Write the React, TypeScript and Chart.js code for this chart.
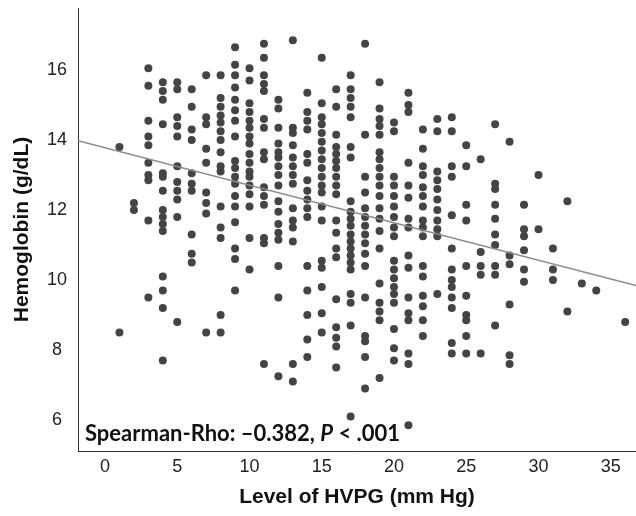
import { useEffect, useRef } from "react";
import { Chart, registerables } from "chart.js";

Chart.register(...registerables);

// HVPG levels (mm Hg) and the hemoglobin values (g/dL) observed at each level
const hvpgLevels = [1, 2, 3, 4, 5, 6, 7, 8, 9, 10, 11, 12, 13, 14, 15, 16, 17, 18, 19, 20, 21, 22, 23, 24, 25, 26, 27, 28, 29, 30, 31, 32, 33, 34, 36];
const hemoglobinAtLevel: number[][] = [
  [13.8, 8.5],
  [12.2, 12.0],
  [16.05, 15.55, 14.55, 14.1, 13.85, 13.35, 13.0, 12.85, 11.7, 9.5],
  [15.65, 15.4, 15.15, 14.45, 13.05, 12.95, 12.55, 12.0, 11.8, 11.6, 11.4, 10.1, 9.7, 9.2, 7.7],
  [15.65, 15.45, 14.65, 14.4, 14.1, 13.25, 12.8, 12.55, 12.3, 11.8, 8.8],
  [15.45, 14.95, 14.3, 14.0, 13.05, 12.75, 12.55, 11.3, 10.75, 10.5],
  [15.85, 14.65, 14.45, 13.75, 13.35, 12.5, 12.2, 11.9, 8.5],
  [15.85, 15.2, 14.95, 14.7, 14.5, 14.25, 14.0, 13.65, 13.25, 13.1, 12.1, 11.5, 11.2, 9.0, 8.5],
  [16.65, 16.15, 15.85, 15.5, 15.15, 14.85, 14.55, 14.1, 13.4, 13.2, 12.95, 12.75, 12.4, 12.1, 11.65, 10.9, 10.6, 9.7],
  [16.05, 15.7, 15.05, 14.8, 14.55, 14.35, 14.1, 13.9, 13.6, 13.35, 13.1, 12.95, 12.7, 12.45, 12.1, 11.2, 10.3],
  [16.75, 16.35, 15.85, 15.6, 15.4, 14.6, 14.35, 13.65, 13.45, 12.65, 12.4, 12.15, 11.2, 11.05, 7.6],
  [15.15, 14.9, 14.35, 13.9, 13.65, 13.5, 13.25, 13.0, 12.7, 12.25, 11.95, 11.6, 11.35, 11.15, 10.4, 9.5, 7.25],
  [16.85, 14.35, 14.2, 13.85, 13.5, 13.25, 13.0, 12.75, 12.05, 11.7, 11.5, 11.1, 7.6, 7.1],
  [15.35, 14.8, 14.55, 14.3, 13.6, 13.35, 12.85, 12.55, 12.3, 12.05, 11.8, 10.4, 9.7, 9.0, 8.3, 7.8],
  [16.35, 15.05, 14.65, 14.45, 14.2, 13.95, 13.7, 13.45, 13.2, 12.95, 12.7, 12.5, 12.1, 11.7, 10.55, 10.35, 9.8, 9.05, 8.5],
  [15.45, 14.95, 14.15, 13.8, 13.6, 13.4, 13.2, 12.95, 12.7, 12.45, 11.7, 11.35, 10.9, 10.65, 9.45, 8.65, 8.35, 8.1, 7.5],
  [15.85, 15.45, 15.2, 14.95, 14.65, 13.8, 13.5, 12.25, 11.95, 11.75, 11.55, 11.3, 11.1, 10.9, 10.7, 10.5, 10.3, 9.6, 9.35, 8.7, 6.1],
  [16.75, 14.15, 12.95, 12.5, 12.05, 11.8, 11.55, 11.3, 11.05, 10.75, 10.4, 9.5, 8.4, 8.25, 7.8, 6.9],
  [15.65, 14.9, 14.6, 14.4, 14.15, 13.65, 13.45, 13.2, 12.95, 12.7, 12.4, 12.05, 11.75, 11.4, 10.9, 9.9, 9.35, 9.1, 8.85, 7.2],
  [14.5, 14.25, 12.95, 12.7, 12.4, 12.1, 11.8, 11.5, 11.25, 10.55, 10.3, 10.05, 9.8, 9.6, 9.35, 8.6, 8.05, 7.7],
  [15.35, 15.0, 14.8, 13.35, 12.7, 12.35, 11.75, 11.5, 10.7, 10.35, 9.5, 9.05, 8.85, 7.9, 7.6, 5.85],
  [14.3, 13.75, 13.25, 13.0, 12.65, 12.4, 12.1, 11.7, 11.5, 11.25, 10.4, 10.1, 9.55, 9.25, 8.85, 8.4],
  [14.6, 14.25, 13.1, 12.85, 12.6, 12.3, 12.0, 11.7, 11.45, 11.25, 9.6],
  [14.65, 14.25, 13.25, 12.95, 11.85, 10.9, 10.3, 10.0, 9.8, 9.5, 9.2, 8.2, 7.9],
  [13.85, 13.25, 12.15, 11.7, 10.4, 9.55, 9.0, 8.85, 8.4, 7.9],
  [13.45, 10.8, 10.4, 10.15, 7.9],
  [14.45, 12.75, 12.6, 12.15, 11.75, 11.3, 11.0, 10.4, 10.15, 8.7],
  [13.95, 10.7, 10.45, 9.3, 7.85, 7.6],
  [12.15, 11.45, 11.25, 10.85, 10.3, 9.95],
  [13.0, 11.45],
  [10.9, 10.3, 10.0],
  [12.25, 9.1],
  [9.9],
  [9.7],
  [8.8],
];

// Regression line end points
const trendX = [-1.87, 36.75];
const trendY = [13.98, 9.84];

const xTickValues = [0, 5, 10, 15, 20, 25, 30, 35];
const yTickValues = [6, 8, 10, 12, 14, 16];

const annotationParts = [
  { text: "Spearman-Rho: \u20130.382, ", italic: false },
  { text: "P", italic: true },
  { text: " < .001", italic: false },
];

const SANS = "'Liberation Sans', Arial, sans-serif";

export default function App() {
  const ref = useRef<HTMLCanvasElement>(null);

  useEffect(() => {
    document.body.style.margin = "0";
    const canvas = ref.current;
    if (!canvas) return;

    const points = hvpgLevels.flatMap((x, i) => hemoglobinAtLevel[i].map((y) => ({ x, y })));

    const annotationPlugin = {
      id: "spearmanText",
      afterDatasetsDraw(chart: any) {
        const ctx = chart.ctx as CanvasRenderingContext2D;
        ctx.save();
        ctx.fillStyle = "#111";
        ctx.textBaseline = "alphabetic";
        ctx.textAlign = "left";
        let x = chart.chartArea.left + 7;
        const y = chart.chartArea.bottom - 10;
        for (const part of annotationParts) {
          ctx.font = `${part.italic ? "italic " : ""}bold 22px Lato, 'Open Sans', sans-serif`;
          ctx.fillText(part.text, x, y);
          x += ctx.measureText(part.text).width;
        }
        ctx.restore();
      },
    };

    const zeroPadding = (s: any) => {
      s.paddingTop = 0;
      s.paddingBottom = 0;
      s.paddingLeft = 0;
      s.paddingRight = 0;
    };

    const chart = new Chart(canvas, {
      type: "scatter",
      data: {
        datasets: [
          {
            type: "line",
            data: trendX.map((x, i) => ({ x, y: trendY[i] })),
            borderColor: "#8c8c8c",
            borderWidth: 1.5,
            pointRadius: 0,
            fill: false,
            order: 0,
          } as any,
          {
            data: points,
            backgroundColor: "#444444",
            borderWidth: 0,
            pointRadius: 4,
            order: 1,
          },
        ],
      },
      options: {
        animation: false,
        responsive: false,
        layout: { autoPadding: false, padding: { top: 8, right: 0, left: 0, bottom: 0 } },
        plugins: { legend: { display: false }, tooltip: { enabled: false } },
        scales: {
          x: {
            type: "linear",
            min: -1.87,
            max: 36.75,
            grid: { display: false, drawTicks: false },
            border: { display: true, color: "#333", width: 1 },
            afterBuildTicks: (s: any) => {
              s.ticks = xTickValues.map((v) => ({ value: v }));
            },
            afterFit: (s: any) => {
              s.height = 65;
              zeroPadding(s);
            },
            ticks: { font: { family: SANS, size: 18 }, color: "#222", padding: 5 },
            title: {
              display: true,
              text: "Level of HVPG (mm Hg)",
              font: { family: SANS, size: 21, weight: "bold" },
              color: "#111",
              padding: { top: 0, bottom: 6.5 },
            },
          },
          y: {
            type: "linear",
            min: 5.114,
            max: 17.771,
            grid: { display: false, drawTicks: false },
            border: { display: true, color: "#333", width: 1 },
            afterBuildTicks: (s: any) => {
              s.ticks = yTickValues.map((v) => ({ value: v }));
            },
            afterFit: (s: any) => {
              s.width = 78;
              zeroPadding(s);
            },
            ticks: { font: { family: SANS, size: 18 }, color: "#222", padding: 11, crossAlign: "center" },
            title: {
              display: true,
              text: "Hemoglobin (g/dL)",
              font: { family: SANS, size: 21, weight: "bold" },
              color: "#111",
              padding: { top: 9.5, bottom: 0 },
            },
          },
        },
      } as any,
      plugins: [annotationPlugin],
    });

    return () => chart.destroy();
  }, []);

  return <canvas ref={ref} width={636} height={516} style={{ display: "block", width: 636, height: 516 }} />;
}
